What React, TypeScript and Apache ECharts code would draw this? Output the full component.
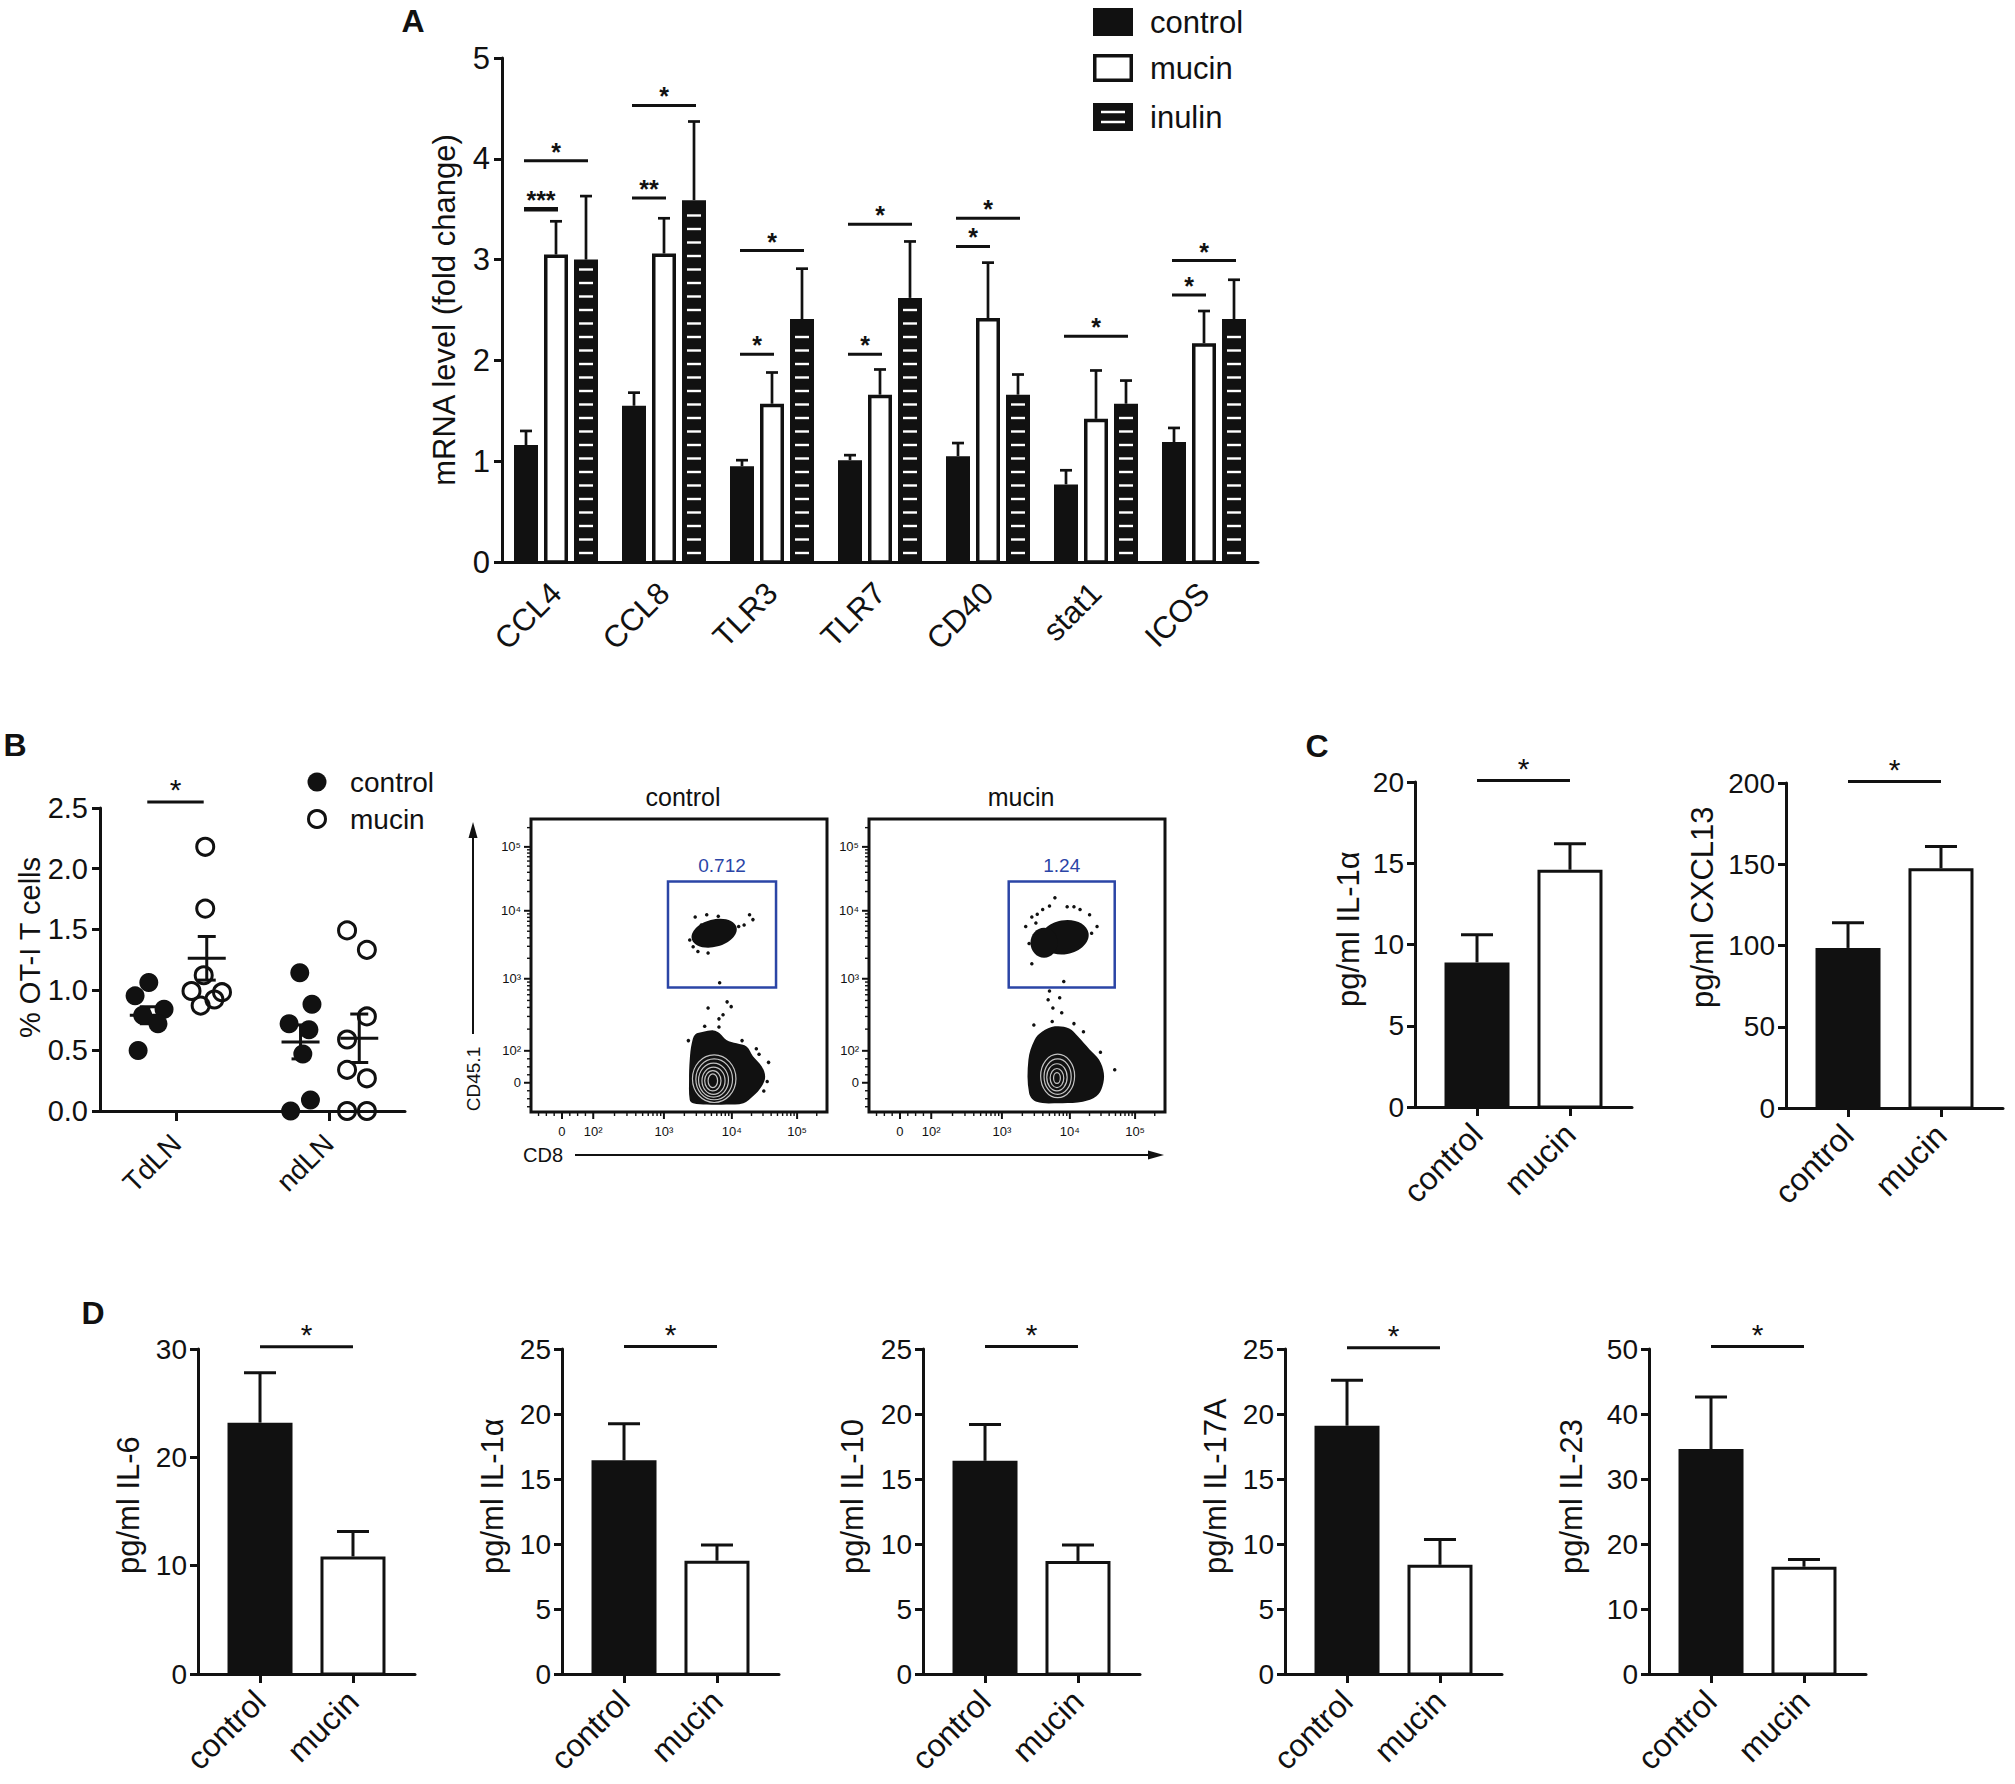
import React, { useEffect, useRef } from "react";
import * as echarts from "echarts";

const FONT = "'Liberation Sans', Arial, Helvetica, sans-serif";
const INK = "#111111";
const BLUE = "#2b45a6";
const W = 2015;
const H = 1784;

// ---------------- Panel A: mRNA level (fold change) ----------------
const aGenes = ["CCL4", "CCL8", "TLR3", "TLR7", "CD40", "stat1", "ICOS"];
const aGroups = ["control", "mucin", "inulin"];
const aControlMean = [1.16, 1.55, 0.95, 1.01, 1.05, 0.77, 1.19];
const aControlTop = [1.3, 1.68, 1.01, 1.06, 1.18, 0.91, 1.33];
const aMucinMean = [3.05, 3.06, 1.57, 1.66, 2.42, 1.42, 2.17];
const aMucinTop = [3.38, 3.41, 1.88, 1.91, 2.97, 1.9, 2.49];
const aInulinMean = [3.0, 3.59, 2.41, 2.62, 1.66, 1.57, 2.41];
const aInulinTop = [3.63, 4.37, 2.91, 3.18, 1.86, 1.8, 2.8];
// significance brackets
const aSigGene = [0, 0, 1, 1, 2, 2, 3, 3, 4, 4, 5, 6, 6];
const aSigFrom = [0, 0, 0, 0, 0, 0, 0, 0, 0, 0, 0, 0, 0];
const aSigTo = [1, 2, 1, 2, 1, 2, 1, 2, 1, 2, 2, 1, 2];
const aSigY = [3.5, 3.98, 3.61, 4.53, 2.06, 3.09, 2.06, 3.35, 3.13, 3.41, 2.24, 2.65, 2.99];
const aSigLabel = ["***", "*", "**", "*", "*", "*", "*", "*", "*", "*", "*", "*", "*"];

// ---------------- Panel B: % OT-I T cells ----------------
const bSites = ["TdLN", "ndLN"];
const bControlTdLN = [1.06, 0.95, 0.84, 0.79, 0.72, 0.5];
const bControlTdLNJitter = [-0.18, -0.27, -0.08, -0.22, -0.12, -0.25];
const bMucinTdLN = [2.18, 1.67, 1.12, 0.99, 0.98, 0.92, 0.87];
const bMucinTdLNJitter = [0.19, 0.19, 0.18, 0.1, 0.3, 0.25, 0.16];
const bControlNdLN = [1.14, 0.88, 0.72, 0.67, 0.47, 0.09, 0.0];
const bControlNdLNJitter = [-0.19, -0.11, -0.26, -0.13, -0.17, -0.12, -0.25];
const bMucinNdLN = [1.49, 1.33, 0.78, 0.59, 0.34, 0.27, 0.0, 0.0];
const bMucinNdLNJitter = [0.12, 0.25, 0.25, 0.12, 0.12, 0.25, 0.12, 0.25];
const bControlMean = [0.79, 0.57];
const bControlSem = [0.07, 0.14];
const bMucinMean = [1.26, 0.6];
const bMucinSem = [0.18, 0.2];
const bSigY = 2.55;

// ---------------- Panel B: flow cytometry (display units of biexponential axes) ----------------
const flowTickLabels = ["0", "10\u00b2", "10\u00b3", "10\u2074", "10\u2075"];
const flowXTickU = [0, 0.46, 1.5, 2.5, 3.46];
const flowYTickU = [0, 0.47, 1.53, 2.53, 3.47];
const flowTitles = ["control", "mucin"];
const flowGateLabels = ["0.712", "1.24"];
const flowCtrlGate = [1.56, 1.4, 3.15, 2.96];
const flowMucinGate = [1.6, 1.4, 3.16, 2.96];
// outline of the dense CD45.1- population [x, y]
const flowCtrlOutline = [
  [1.88, -0.25], [1.87, 0.04], [1.88, 0.34], [1.91, 0.58], [1.96, 0.71], [2.08, 0.75], [2.23, 0.77],
  [2.32, 0.73], [2.42, 0.63], [2.57, 0.58], [2.72, 0.53], [2.81, 0.39], [2.94, 0.24], [2.99, 0.09],
  [2.94, -0.05], [2.81, -0.2], [2.67, -0.3], [2.42, -0.32], [2.13, -0.32], [1.93, -0.3],
];
const flowMucinOutline = [
  [1.89, 0.34], [1.98, 0.63], [2.09, 0.75], [2.28, 0.83], [2.49, 0.8], [2.62, 0.68], [2.79, 0.49],
  [2.93, 0.34], [3.0, 0.14], [2.98, -0.05], [2.89, -0.2], [2.69, -0.28], [2.35, -0.3], [2.01, -0.28],
  [1.9, -0.15],
];
// dense CD45.1+ clusters [cx, cy, rx, ry, rotationDeg]
const flowCtrlBlobs = [[2.24, 2.2, 0.34, 0.2, 15]];
const flowMucinBlobs = [
  [2.42, 2.14, 0.36, 0.25, 10],
  [2.12, 2.06, 0.2, 0.22, 0],
];
// contour rings [cx, cy, rx, ry]
const flowCtrlContours = [
  [2.24, 0.06, 0.32, 0.35],
  [2.24, 0.05, 0.27, 0.3],
  [2.23, 0.04, 0.22, 0.25],
  [2.23, 0.03, 0.17, 0.2],
  [2.22, 0.03, 0.12, 0.15],
  [2.22, 0.03, 0.07, 0.1],
];
const flowMucinContours = [
  [2.32, 0.1, 0.25, 0.32],
  [2.32, 0.09, 0.2, 0.26],
  [2.31, 0.08, 0.15, 0.2],
  [2.31, 0.07, 0.1, 0.14],
  [2.31, 0.07, 0.05, 0.08],
];
// sparse events [x, y]
const flowCtrlEvents = [
  [1.96, 2.44], [2.13, 2.47], [2.3, 2.45], [2.76, 2.47], [2.81, 2.4], [2.68, 2.32], [1.93, 2.0],
  [1.88, 2.1], [2.0, 1.93], [2.15, 1.91], [2.32, 1.47], [2.15, 1.1], [2.43, 1.19], [2.49, 1.12],
  [2.37, 1.0], [2.31, 0.94], [2.31, 0.82], [3.02, 0.02], [3.04, 0.3], [2.86, 0.5], [1.86, 0.62],
  [2.6, 2.3], [2.05, 2.32], [2.97, -0.12], [2.9, 0.42], [2.1, 0.83], [2.65, 0.62],
];
const flowMucinEvents = [
  [1.94, 1.75], [2.28, 2.72], [2.46, 2.59], [2.56, 2.59], [2.79, 2.47], [1.94, 2.44], [2.01, 2.2],
  [2.41, 1.49], [2.18, 1.22], [2.35, 1.25], [2.25, 1.1], [2.38, 1.03], [2.24, 0.9], [1.97, 0.85],
  [2.56, 0.87], [3.16, 0.19], [2.1, 2.55], [2.2, 2.6], [2.65, 2.55], [2.9, 2.3], [2.0, 2.35],
  [2.7, 0.75], [2.95, 0.45], [2.2, 1.35], [1.85, 2.3], [1.9, 2.05], [2.02, 2.48], [2.82, 2.2],
];

// ---------------- Panels C & D ----------------
const cdGroups = ["control", "mucin"];
const cIL1aMean = [8.9, 14.6];
const cIL1aTop = [10.6, 16.2];
const cCXCL13Mean = [98.5, 147.5];
const cCXCL13Top = [114, 161];
const dIL6Mean = [23.2, 10.85];
const dIL6Top = [27.8, 13.15];
const dIL1aMean = [16.45, 8.72];
const dIL1aTop = [19.25, 9.92];
const dIL10Mean = [16.4, 8.7];
const dIL10Top = [19.2, 9.92];
const dIL17AMean = [19.1, 8.4];
const dIL17ATop = [22.6, 10.35];
const dIL23Mean = [34.6, 16.5];
const dIL23Top = [42.6, 17.6];

const A_STEP = 30;
const A_W = 24;

function ln(x1: number, y1: number, x2: number, y2: number, w: number, c = INK) {
  return { type: "line", shape: { x1, y1, x2, y2 }, style: { stroke: c, lineWidth: w } };
}

function renderABar(params: any, api: any) {
  const i = api.value(0);
  const v = api.value(1);
  const t = api.value(2);
  const g = api.value(3);
  const base = api.coord([i, 0]);
  const cx = base[0] + (g - 1) * A_STEP;
  const ty = api.coord([i, v])[1];
  const ey = api.coord([i, t])[1];
  const h = base[1] - ty;
  const kids: any[] = [];
  if (g === 1) {
    kids.push({
      type: "rect",
      shape: { x: cx - A_W / 2 + 1.75, y: ty + 1.75, width: A_W - 3.5, height: h - 1.75 },
      style: { fill: "#fff", stroke: INK, lineWidth: 3.5 },
    });
  } else {
    kids.push({ type: "rect", shape: { x: cx - A_W / 2, y: ty, width: A_W, height: h }, style: { fill: INK } });
  }
  if (g === 2) {
    for (let y = base[1] - 9; y > ty + 5; y -= 13.5) kids.push(ln(cx - 7, y, cx + 7, y, 2.4, "#fff"));
  }
  kids.push(ln(cx, ty, cx, ey, 2.7));
  kids.push(ln(cx - 6, ey, cx + 6, ey, 2.7));
  return { type: "group", children: kids };
}

function renderASig(params: any, api: any) {
  const i = api.value(0);
  const g1 = api.value(1);
  const g2 = api.value(2);
  const y = api.value(3);
  const c = api.coord([i, y]);
  const x1 = c[0] + (g1 - 1) * A_STEP - 2;
  const x2 = c[0] + (g2 - 1) * A_STEP + 2;
  const label = aSigLabel[params.dataIndex];
  return {
    type: "group",
    children: [
      ln(x1, c[1], x2, c[1], label === "***" ? 4.5 : 3),
      {
        type: "text",
        style: {
          text: label, x: (x1 + x2) / 2, y: c[1] - 9, align: "center", verticalAlign: "middle",
          fontSize: 25, fontWeight: "bold", fontFamily: FONT, fill: INK,
        },
      },
    ],
  };
}

function renderSig(params: any, api: any) {
  const y = api.value(2);
  const p1 = api.coord([api.value(0), y]);
  const p2 = api.coord([api.value(1), y]);
  return {
    type: "group",
    children: [
      ln(p1[0], p1[1], p2[0], p2[1], 3),
      {
        type: "text",
        style: {
          text: "*", x: (p1[0] + p2[0]) / 2, y: p1[1] - 12, align: "center", verticalAlign: "middle",
          fontSize: 30, fontFamily: FONT, fill: INK,
        },
      },
    ],
  };
}

function renderSmallBar(params: any, api: any) {
  const x = api.value(0);
  const v = api.value(1);
  const t = api.value(2);
  const p0 = api.coord([x, 0]);
  const p1 = api.coord([x, v]);
  const p2 = api.coord([x, t]);
  const w = 65;
  const bar =
    params.dataIndex === 0
      ? { type: "rect", shape: { x: p0[0] - w / 2, y: p1[1], width: w, height: p0[1] - p1[1] }, style: { fill: INK } }
      : {
          type: "rect",
          shape: { x: p0[0] - w / 2 + 1.5, y: p1[1] + 1.5, width: w - 3, height: p0[1] - p1[1] - 1.5 },
          style: { fill: "#fff", stroke: INK, lineWidth: 3 },
        };
  return {
    type: "group",
    children: [bar, ln(p0[0], p1[1], p0[0], p2[1], 3), ln(p0[0] - 16, p2[1], p0[0] + 16, p2[1], 3)],
  };
}

function renderMeanSem(params: any, api: any) {
  const x = api.value(0);
  const m = api.value(1);
  const s = api.value(2);
  const pm = api.coord([x, m]);
  const pt = api.coord([x, m + s]);
  const pb = api.coord([x, m - s]);
  return {
    type: "group",
    children: [
      ln(pm[0] - 19, pm[1], pm[0] + 19, pm[1], 3),
      ln(pm[0], pt[1], pm[0], pb[1], 3),
      ln(pm[0] - 9, pt[1], pm[0] + 9, pt[1], 3),
      ln(pm[0] - 9, pb[1], pm[0] + 9, pb[1], 3),
    ],
  };
}

function renderBlob(params: any, api: any) {
  const c = api.coord([api.value(0), api.value(1)]);
  const s = api.size([api.value(2), api.value(3)]);
  return {
    type: "ellipse",
    x: c[0],
    y: c[1],
    rotation: (api.value(4) * Math.PI) / 180,
    shape: { cx: 0, cy: 0, rx: s[0], ry: s[1] },
    style: { fill: INK },
  };
}

function makeOutlineRender(outline: number[][]) {
  return (params: any, api: any) => ({
    type: "polygon",
    shape: { points: outline.map((p) => api.coord(p)), smooth: 0.35 },
    style: { fill: INK },
  });
}

function renderContour(params: any, api: any) {
  const c = api.coord([api.value(0), api.value(1)]);
  const s = api.size([api.value(2), api.value(3)]);
  return {
    type: "ellipse",
    shape: { cx: c[0], cy: c[1], rx: s[0], ry: s[1] },
    style: { fill: "none", stroke: "#c4c4c4", lineWidth: 1.2 },
  };
}

function makeGateRender(labelIdx: number) {
  return (params: any, api: any) => {
    const a = api.coord([api.value(0), api.value(3)]);
    const b = api.coord([api.value(2), api.value(1)]);
    return {
      type: "group",
      children: [
        {
          type: "rect",
          shape: { x: a[0], y: a[1], width: b[0] - a[0], height: b[1] - a[1] },
          style: { fill: "none", stroke: BLUE, lineWidth: 2.5 },
        },
        {
          type: "text",
          style: {
            text: flowGateLabels[labelIdx], x: (a[0] + b[0]) / 2, y: a[1] - 16, align: "center",
            verticalAlign: "middle", fontSize: 19, fontFamily: FONT, fill: BLUE,
          },
        },
      ],
    };
  };
}

// major ticks + labels of the flow plots, drawn on the frame edges
function renderFlowMajor(params: any, api: any) {
  const cs = params.coordSys;
  const u = api.value(0);
  const axis = api.value(1);
  const label = flowTickLabels[api.value(2)];
  if (axis === 0) {
    const x = api.coord([u, 0])[0];
    const yb = cs.y + cs.height;
    return {
      type: "group",
      children: [
        ln(x, yb, x, yb + 7, 2),
        { type: "text", style: { text: label, x, y: yb + 13, align: "center", verticalAlign: "top", fontSize: 13, fontFamily: FONT, fill: INK } },
      ],
    };
  }
  const y = api.coord([0, u])[1];
  return {
    type: "group",
    children: [
      ln(cs.x, y, cs.x - 7, y, 2),
      { type: "text", style: { text: label, x: cs.x - 10, y, align: "right", verticalAlign: "middle", fontSize: 13, fontFamily: FONT, fill: INK } },
    ],
  };
}

function renderMinorTick(params: any, api: any) {
  const cs = params.coordSys;
  const u = api.value(0);
  const axis = api.value(1);
  if (axis === 0) {
    const x = api.coord([u, 0])[0];
    const yb = cs.y + cs.height;
    return ln(x, yb, x, yb + 4, 1.4);
  }
  const y = api.coord([0, u])[1];
  return ln(cs.x, y, cs.x - 4, y, 1.4);
}

function minorTickData(decX: number[], decY: number[]) {
  const out: number[][] = [];
  const add = (dec: number[], axis: number, max: number) => {
    for (let d = 1; d < dec.length - 1; d++) {
      for (let k = 2; k <= 9; k++) out.push([dec[d] + Math.log10(k) * (dec[d + 1] - dec[d]), axis]);
    }
    const last = dec.length - 1;
    for (let k = 2; k <= 9; k++) {
      const u = dec[last] + Math.log10(k) * (dec[last] - dec[last - 1]);
      if (u < max) out.push([u, axis]);
    }
    for (let j = -3; j <= 3; j++) if (j !== 0) out.push([(j * dec[1]) / 4, axis]);
  };
  add(decX, 0, 3.88);
  add(decY, 1, 3.86);
  return out;
}

function buildOption() {
  const grid: any[] = [];
  const xAxis: any[] = [];
  const yAxis: any[] = [];
  const series: any[] = [];
  const graphic: any[] = [];
  const ls = (w: number) => ({ color: INK, width: w });
  const lab = (size: number, extra: any = {}) => ({ color: INK, fontFamily: FONT, fontSize: size, ...extra });
  const txt = (text: string, x: number, y: number, size: number, extra: any = {}) => ({
    type: "text",
    x,
    y,
    rotation: extra.rotation || 0,
    style: {
      text, fontSize: size, fontFamily: FONT, fill: extra.fill || INK, fontWeight: extra.bold ? "bold" : "normal",
      align: extra.align || "center", textAlign: extra.align || "center",
      verticalAlign: "middle", textVerticalAlign: "middle",
    },
  });

  // ===== Panel A =====
  const gA = grid.length;
  grid.push({ left: 502, top: 58, width: 756, height: 504 });
  xAxis.push({
    gridIndex: gA, type: "category", data: aGenes,
    axisLine: { lineStyle: ls(3) },
    axisTick: { alignWithLabel: true, length: 10, lineStyle: ls(3) },
    axisLabel: lab(31, { rotate: 45, margin: 26, interval: 0 }),
    splitLine: { show: false },
  });
  yAxis.push({
    gridIndex: gA, type: "value", min: 0, max: 5, interval: 1,
    axisLine: { show: true, lineStyle: ls(3) },
    axisTick: { show: true, length: 8, lineStyle: ls(3) },
    axisLabel: lab(31, { margin: 12 }),
    splitLine: { show: false },
    name: "mRNA level (fold change)", nameLocation: "middle", nameGap: 42, nameTextStyle: lab(31),
  });
  const aData: number[][] = [];
  aGenes.forEach((_, i) => {
    aData.push([i, aControlMean[i], aControlTop[i], 0]);
    aData.push([i, aMucinMean[i], aMucinTop[i], 1]);
    aData.push([i, aInulinMean[i], aInulinTop[i], 2]);
  });
  series.push({ type: "custom", xAxisIndex: gA, yAxisIndex: gA, data: aData, encode: { x: 0, y: [1, 2] }, renderItem: renderABar });
  series.push({
    type: "custom", xAxisIndex: gA, yAxisIndex: gA,
    data: aSigGene.map((g, k) => [g, aSigFrom[k], aSigTo[k], aSigY[k]]),
    encode: { x: 0, y: 3 }, renderItem: renderASig,
  });
  // legend A
  graphic.push({ type: "rect", shape: { x: 1093, y: 8, width: 40, height: 28 }, style: { fill: INK } });
  graphic.push({ type: "rect", shape: { x: 1094.75, y: 55.75, width: 36.5, height: 24.5 }, style: { fill: "#fff", stroke: INK, lineWidth: 3.5 } });
  graphic.push({ type: "rect", shape: { x: 1093, y: 103, width: 40, height: 28 }, style: { fill: INK } });
  graphic.push({ type: "line", shape: { x1: 1101, y1: 112, x2: 1125, y2: 112 }, style: { stroke: "#fff", lineWidth: 2.5 } });
  graphic.push({ type: "line", shape: { x1: 1101, y1: 122, x2: 1125, y2: 122 }, style: { stroke: "#fff", lineWidth: 2.5 } });
  graphic.push(txt(aGroups[0], 1150, 22, 31, { align: "left" }));
  graphic.push(txt(aGroups[1], 1150, 68, 31, { align: "left" }));
  graphic.push(txt(aGroups[2], 1150, 117, 31, { align: "left" }));

  // ===== Panel B scatter =====
  const gB = grid.length;
  grid.push({ left: 100, top: 808, width: 305, height: 303 });
  xAxis.push({
    gridIndex: gB, type: "value", min: 0.5, max: 2.5,
    axisLine: { lineStyle: ls(3) },
    axisTick: { customValues: [1, 2], length: 10, lineStyle: ls(3) },
    axisLabel: lab(28, { customValues: [1, 2], rotate: 45, margin: 28, formatter: (v: number) => bSites[Math.round(v) - 1] }),
    splitLine: { show: false },
  });
  yAxis.push({
    gridIndex: gB, type: "value", min: 0, max: 2.5, interval: 0.5,
    axisLine: { show: true, lineStyle: ls(3) },
    axisTick: { show: true, length: 8, lineStyle: ls(3) },
    axisLabel: lab(29, { margin: 12, formatter: (v: number) => v.toFixed(1) }),
    splitLine: { show: false },
  });
  graphic.push(txt("% OT-I T cells", 30, 1038, 29, { rotation: Math.PI / 2, align: "left" }));
  const ctrlPts = [
    ...bControlTdLN.map((v, k) => [1 + bControlTdLNJitter[k], v]),
    ...bControlNdLN.map((v, k) => [2 + bControlNdLNJitter[k], v]),
  ];
  const mucPts = [
    ...bMucinTdLN.map((v, k) => [1 + bMucinTdLNJitter[k], v]),
    ...bMucinNdLN.map((v, k) => [2 + bMucinNdLNJitter[k], v]),
  ];
  series.push({ type: "scatter", xAxisIndex: gB, yAxisIndex: gB, data: ctrlPts, symbolSize: 19, itemStyle: { color: INK, opacity: 1 }, clip: false });
  series.push({
    type: "scatter", xAxisIndex: gB, yAxisIndex: gB, data: mucPts, symbolSize: 17,
    itemStyle: { color: "rgba(255,255,255,0)", borderColor: INK, borderWidth: 3, opacity: 1 }, clip: false,
  });
  series.push({
    type: "custom", xAxisIndex: gB, yAxisIndex: gB,
    data: [
      [1 - 0.18, bControlMean[0], bControlSem[0]],
      [1 + 0.2, bMucinMean[0], bMucinSem[0]],
      [2 - 0.185, bControlMean[1], bControlSem[1]],
      [2 + 0.2, bMucinMean[1], bMucinSem[1]],
    ],
    encode: { x: 0, y: 1 }, renderItem: renderMeanSem,
  });
  series.push({
    type: "custom", xAxisIndex: gB, yAxisIndex: gB, data: [[0.81, 1.18, bSigY]],
    encode: { x: [0, 1], y: 2 }, renderItem: renderSig,
  });
  graphic.push({ type: "circle", shape: { cx: 317, cy: 782, r: 9.5 }, style: { fill: INK } });
  graphic.push({ type: "circle", shape: { cx: 317, cy: 819, r: 8.5 }, style: { fill: "#fff", stroke: INK, lineWidth: 3 } });
  graphic.push(txt(aGroups[0], 350, 782, 28, { align: "left" }));
  graphic.push(txt(aGroups[1], 350, 819, 28, { align: "left" }));

  // ===== Panel B flow plots =====
  const flowSets = [
    { left: 531, outline: flowCtrlOutline, blobs: flowCtrlBlobs, contours: flowCtrlContours, events: flowCtrlEvents, gate: flowCtrlGate },
    { left: 869, outline: flowMucinOutline, blobs: flowMucinBlobs, contours: flowMucinContours, events: flowMucinEvents, gate: flowMucinGate },
  ];
  const minor = minorTickData(flowXTickU, flowYTickU);
  const major = [
    ...flowXTickU.map((u, i) => [u, 0, i]),
    ...flowYTickU.map((u, i) => [u, 1, i]),
  ];
  flowSets.forEach((fs, k) => {
    const g = grid.length;
    grid.push({ left: fs.left, top: 819, width: 296, height: 293, show: true, borderColor: INK, borderWidth: 3, backgroundColor: "transparent" });
    xAxis.push({
      gridIndex: g, type: "value", min: -0.456, max: 3.9,
      axisLine: { show: false, onZero: false }, splitLine: { show: false },
      axisTick: { show: false }, axisLabel: { show: false },
    });
    yAxis.push({
      gridIndex: g, type: "value", min: -0.43, max: 3.88,
      axisLine: { show: false, onZero: false }, splitLine: { show: false },
      axisTick: { show: false }, axisLabel: { show: false },
    });
    series.push({ type: "custom", xAxisIndex: g, yAxisIndex: g, data: minor, encode: { x: 0, y: 1 }, renderItem: renderMinorTick });
    series.push({ type: "custom", xAxisIndex: g, yAxisIndex: g, data: major, encode: { x: 0, y: 1 }, renderItem: renderFlowMajor });
    series.push({ type: "custom", xAxisIndex: g, yAxisIndex: g, data: [fs.outline[0]], encode: { x: 0, y: 1 }, renderItem: makeOutlineRender(fs.outline) });
    series.push({ type: "custom", xAxisIndex: g, yAxisIndex: g, data: fs.blobs, encode: { x: 0, y: 1 }, renderItem: renderBlob });
    series.push({ type: "custom", xAxisIndex: g, yAxisIndex: g, data: fs.contours, encode: { x: 0, y: 1 }, renderItem: renderContour });
    series.push({ type: "scatter", xAxisIndex: g, yAxisIndex: g, data: fs.events, symbolSize: 3.5, itemStyle: { color: INK, opacity: 1 }, clip: false });
    series.push({ type: "custom", xAxisIndex: g, yAxisIndex: g, data: [fs.gate], encode: { x: [0, 2], y: [1, 3] }, renderItem: makeGateRender(k) });
    graphic.push(txt(flowTitles[k], fs.left + 152, 797, 25));
  });
  // flow axis titles and arrows
  graphic.push(txt("CD45.1", 473, 1079, 19, { rotation: Math.PI / 2 }));
  graphic.push({ type: "line", shape: { x1: 473, y1: 1034, x2: 473, y2: 830 }, style: { stroke: INK, lineWidth: 2 } });
  graphic.push({ type: "polygon", shape: { points: [[473, 822], [468.5, 838], [477.5, 838]] }, style: { fill: INK } });
  graphic.push(txt("CD8", 543, 1155, 20));
  graphic.push({ type: "line", shape: { x1: 575, y1: 1155, x2: 1155, y2: 1155 }, style: { stroke: INK, lineWidth: 2 } });
  graphic.push({ type: "polygon", shape: { points: [[1164, 1155], [1148, 1150.5], [1148, 1159.5]] }, style: { fill: INK } });

  // ===== Panels C & D =====
  const small = [
    { left: 1415, top: 782, max: 20, interval: 5, name: "pg/ml IL-1\u03b1", nameX: 1348, mean: cIL1aMean, err: cIL1aTop, sig: 20.1 },
    { left: 1786, top: 783, max: 200, interval: 50, name: "pg/ml CXCL13", nameX: 1702, mean: cCXCL13Mean, err: cCXCL13Top, sig: 201 },
    { left: 198, top: 1349, max: 30, interval: 10, name: "pg/ml IL-6", nameX: 128, mean: dIL6Mean, err: dIL6Top, sig: 30.2 },
    { left: 562, top: 1349, max: 25, interval: 5, name: "pg/ml IL-1\u03b1", nameX: 492, mean: dIL1aMean, err: dIL1aTop, sig: 25.2 },
    { left: 923, top: 1349, max: 25, interval: 5, name: "pg/ml IL-10", nameX: 852, mean: dIL10Mean, err: dIL10Top, sig: 25.2 },
    { left: 1285, top: 1349, max: 25, interval: 5, name: "pg/ml IL-17A", nameX: 1215, mean: dIL17AMean, err: dIL17ATop, sig: 25.1 },
    { left: 1649, top: 1349, max: 50, interval: 10, name: "pg/ml IL-23", nameX: 1571, mean: dIL23Mean, err: dIL23Top, sig: 50.4 },
  ];
  small.forEach((sp) => {
    const g = grid.length;
    grid.push({ left: sp.left, top: sp.top, width: 217, height: 325 });
    xAxis.push({
      gridIndex: g, type: "value", min: 0.333, max: 2.667,
      axisLine: { lineStyle: ls(3) },
      axisTick: { customValues: [1, 2], length: 9, lineStyle: ls(3) },
      axisLabel: lab(32, { customValues: [1, 2], rotate: 45, margin: 22, formatter: (v: number) => cdGroups[Math.round(v) - 1] }),
      splitLine: { show: false },
    });
    yAxis.push({
      gridIndex: g, type: "value", min: 0, max: sp.max, interval: sp.interval,
      axisLine: { show: true, lineStyle: ls(3) },
      axisTick: { show: true, length: 8, lineStyle: ls(3) },
      axisLabel: lab(28, { margin: 11 }),
      splitLine: { show: false },
    });
    graphic.push(txt(sp.name, sp.nameX, sp.top + 325 - 100, 31, { rotation: Math.PI / 2, align: "left" }));
    series.push({
      type: "custom", xAxisIndex: g, yAxisIndex: g,
      data: [[1, sp.mean[0], sp.err[0]], [2, sp.mean[1], sp.err[1]]],
      encode: { x: 0, y: [1, 2] }, renderItem: renderSmallBar,
    });
    series.push({
      type: "custom", xAxisIndex: g, yAxisIndex: g, data: [[1, 2, sp.sig]],
      encode: { x: [0, 1], y: 2 }, renderItem: renderSig,
    });
  });

  // panel letters
  graphic.push(txt("A", 413, 21, 32, { bold: true }));
  graphic.push(txt("B", 15, 745, 32, { bold: true }));
  graphic.push(txt("C", 1317, 746, 32, { bold: true }));
  graphic.push(txt("D", 93, 1313, 32, { bold: true }));

  return {
    animation: false,
    backgroundColor: "#fff",
    textStyle: { fontFamily: FONT, color: INK },
    grid,
    xAxis,
    yAxis,
    series,
    graphic,
  };
}

export default function App() {
  const ref = useRef<HTMLDivElement>(null);
  useEffect(() => {
    if (!ref.current) return;
    const chart = echarts.init(ref.current, null, { renderer: "svg", width: W, height: H });
    chart.setOption(buildOption() as any);
    return () => chart.dispose();
  }, []);
  return (
    <div
      ref={ref}
      style={{ position: "fixed", left: 0, top: 0, width: W, height: H, background: "#fff" }}
    />
  );
}
